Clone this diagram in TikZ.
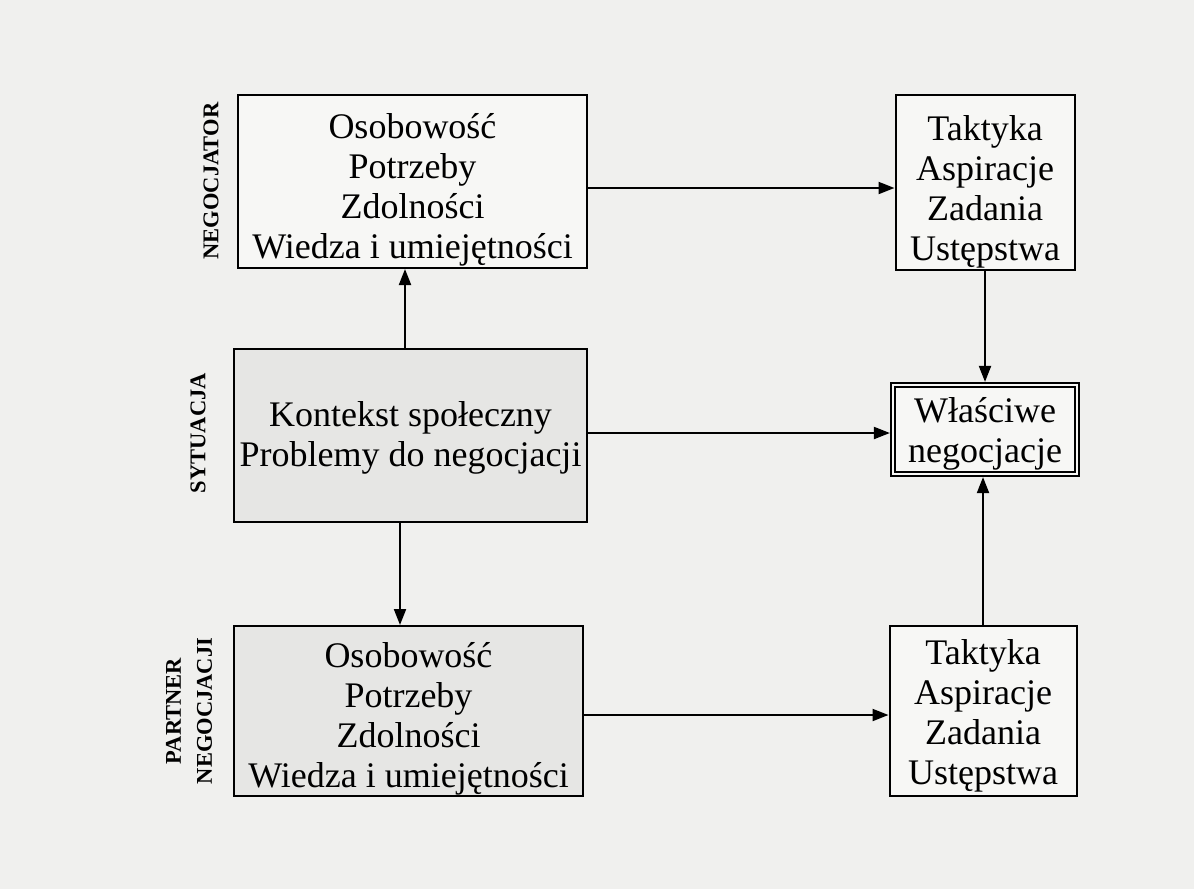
\documentclass[tikz,border=0pt]{standalone}
\usepackage{fontspec}
\setmainfont{Liberation Serif}
\usetikzlibrary{arrows.meta}
\definecolor{bgcol}{RGB}{240,240,238}
\definecolor{boxlight}{RGB}{247,247,245}
\definecolor{boxgray}{RGB}{230,230,228}
\begin{document}
\begin{tikzpicture}[x=1pt,y=-1pt,
  box/.style={draw=black,line width=2pt,inner sep=0pt,outer sep=1pt},
  lightbox/.style={box,fill=boxlight},
  graybox/.style={box,fill=boxgray},
  txt/.style={inner sep=0pt,align=center,font=\fontsize{36}{40}\selectfont},
  arr/.style={line width=2pt,-{Triangle[length=16pt,width=12pt]}},
  side/.style={rotate=90,font=\fontsize{22.5}{31}\selectfont\bfseries,align=center}]
\fill[bgcol] (0,0) rectangle (1194,889);
\useasboundingbox (0,0) rectangle (1194,889);

\node[lightbox,minimum width=349pt,minimum height=173pt] (b1) at (412.5,181.5) {};
\node[lightbox,minimum width=179pt,minimum height=175pt] (b2) at (985,182.5) {};
\node[graybox,minimum width=353pt,minimum height=173pt] (b3) at (410.5,435.5) {};
\node[fill=boxlight,draw=black,double=boxlight,double distance=2.6pt,line width=1.8pt,
  inner sep=0pt,outer sep=3.1pt,
  minimum width=184pt,minimum height=89pt] (b4) at (985,429.5) {};
\node[graybox,minimum width=349pt,minimum height=170pt] (b5) at (408.5,711) {};
\node[lightbox,minimum width=187pt,minimum height=170pt] (b6) at (983,711) {};

\node[txt] (t1) at ([yshift=-8pt]b1.center)
  {Osobowość\\Potrzeby\\Zdolności\\Wiedza i umiejętności};
\node[txt] (t2) at ([yshift=-9pt]b2.center)
  {Taktyka\\Aspiracje\\Zadania\\Ustępstwa};
\node[txt] (t3) at ([yshift=-2pt]b3.center)
  {Kontekst społeczny\\Problemy do negocjacji};
\node[txt] (t4) at ([yshift=-4pt]b4.center)
  {Właściwe\\negocjacje};
\node[txt] (t5) at ([yshift=-8pt]b5.center)
  {Osobowość\\Potrzeby\\Zdolności\\Wiedza i umiejętności};
\node[txt] (t6) at ([yshift=-5pt]b6.center)
  {Taktyka\\Aspiracje\\Zadania\\Ustępstwa};

\node[side] (l1) at (211,181) {NEGOCJATOR};
\node[side] (l2) at (198,433) {SYTUACJA};
\node[side] (l3) at (189,711) {PARTNER\\NEGOCJACJI};

\draw[arr] ([yshift=-6.5pt]b1.east) -- ([yshift=-6.5pt]b1.east -| b2.west);
\draw[arr] ([xshift=-5.5pt]b3.north) -- ([xshift=-5.5pt]b3.north |- b1.south);
\draw[arr] (b2.south) -- (b2.south |- b4.north);
\draw[arr] ([yshift=2.5pt]b3.east) -- ([yshift=2.5pt]b3.east -| b4.west);
\draw[arr] ([xshift=-10.5pt]b3.south) -- ([xshift=-10.5pt]b3.south |- b5.north);
\draw[arr] (b6.north) -- (b6.north |- b4.south);
\draw[arr] ([yshift=-4pt]b5.east) -- ([yshift=-4pt]b5.east -| b6.west);
\end{tikzpicture}
\end{document}
